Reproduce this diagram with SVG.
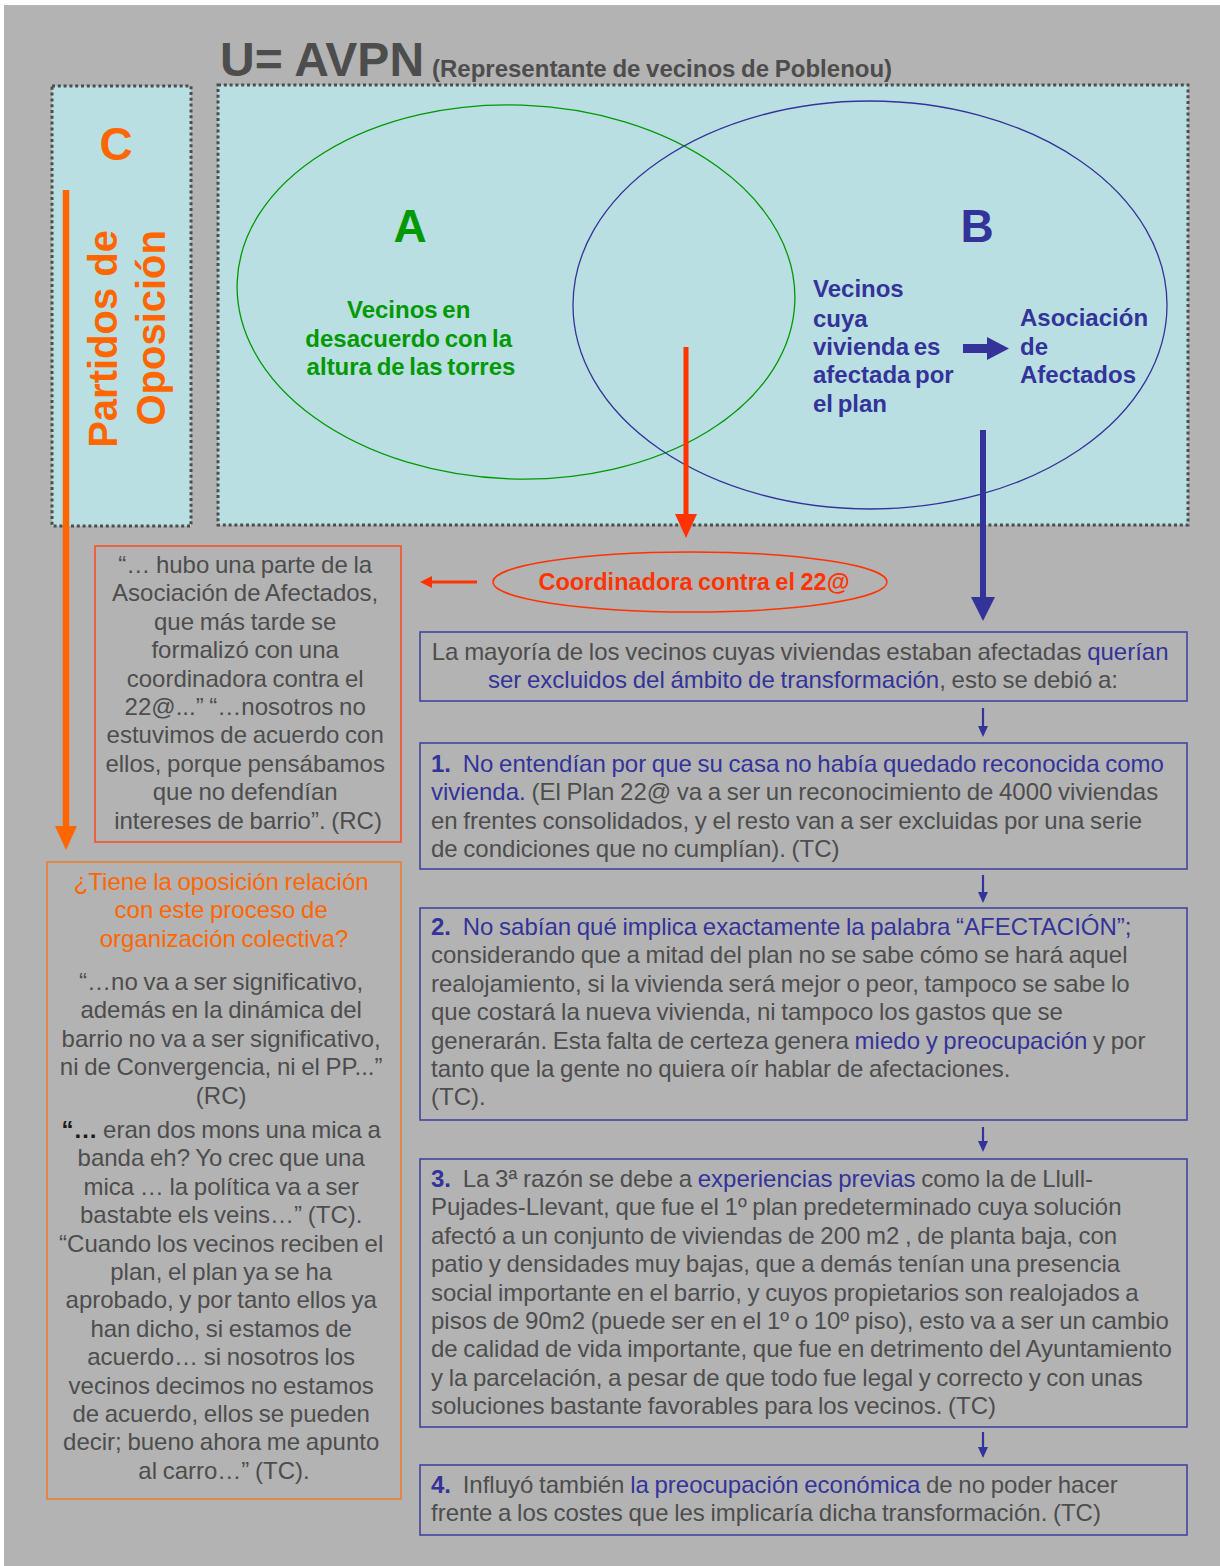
<svg xmlns="http://www.w3.org/2000/svg" width="1220" height="1566" viewBox="0 0 1220 1566">
  <style>
    text { font-family: "Liberation Sans", Arial, sans-serif; }
    .body { font-size: 24px; fill: #4d4d4d; word-spacing: -1px; }
    .mid { text-anchor: middle; }
    .hl { fill: #333399; }
    .num { font-weight: bold; fill: #333399; }
    .orange { fill: #ff6600; }
    .dotted { fill: #b9dfe2; stroke: #4d4d4d; stroke-width: 3; stroke-dasharray: 3 2.8; }
    .box { fill: none; stroke: #4444a0; stroke-width: 1.6; }
    .green { fill: #009900; font-weight: bold; }
    .blue { fill: #333399; font-weight: bold; }
  </style>

  <!-- page -->
  <rect x="0" y="0" width="1220" height="1566" fill="#ffffff"/>
  <rect x="4" y="5" width="1216" height="1561" fill="#b3b3b3"/>

  <!-- title -->
  <g id="title">
    <text x="220" y="76" font-size="48" font-weight="bold" fill="#4d4d4d">U= AVPN</text>
    <text x="432" y="77" font-size="24" font-weight="bold" fill="#4d4d4d" word-spacing="-1">(Representante de vecinos de Poblenou)</text>
  </g>

  <!-- set C -->
  <g id="set-c">
    <rect class="dotted" x="52" y="86" width="139" height="440"/>
    <text x="116" y="160" font-size="46" font-weight="bold" class="mid orange">C</text>
    <text transform="translate(117,230) rotate(-90)" font-size="40" font-weight="bold" class="orange" text-anchor="end">Partidos de</text>
    <text transform="translate(165,230) rotate(-90)" font-size="40" font-weight="bold" class="orange" text-anchor="end">Oposición</text>
  </g>

  <!-- universe U with sets A and B -->
  <g id="set-u">
    <rect class="dotted" x="218" y="85" width="970" height="440"/>
  </g>
  <g id="set-a">
    <ellipse cx="516" cy="292" rx="279" ry="187" fill="none" stroke="#009900" stroke-width="1.3" transform="rotate(2 516 292)"/>
    <text x="410" y="242" font-size="46" class="mid green">A</text>
    <text class="mid green" font-size="24" word-spacing="-2">
      <tspan x="411" y="318">Vecinos en</tspan>
      <tspan x="411" y="347">desacuerdo con la</tspan>
      <tspan x="411" y="375">altura de las torres</tspan>
    </text>
  </g>
  <g id="set-b">
    <ellipse cx="870" cy="305" rx="297" ry="204" fill="none" stroke="#333399" stroke-width="1.3"/>
    <text x="977" y="242" font-size="46" class="mid blue">B</text>
    <text class="blue" font-size="24" word-spacing="-2">
      <tspan x="813" y="297">Vecinos</tspan>
      <tspan x="813" y="327">cuya</tspan>
      <tspan x="813" y="355">vivienda es</tspan>
      <tspan x="813" y="383">afectada por</tspan>
      <tspan x="813" y="412">el plan</tspan>
    </text>
  </g>
  <g id="asociacion-afectados">
    <text class="blue" font-size="24">
      <tspan x="1020" y="326">Asociación</tspan>
      <tspan x="1020" y="355">de</tspan>
      <tspan x="1020" y="383">Afectados</tspan>
    </text>
  </g>

  <!-- Coordinadora -->
  <g id="coordinadora">
    <ellipse cx="690" cy="582" rx="197" ry="30" fill="none" stroke="#ff3300" stroke-width="1.5"/>
    <text x="694" y="590" font-size="23.5" font-weight="bold" fill="#ff3300" class="mid" word-spacing="-1">Coordinadora contra el 22@</text>
  </g>

  <!-- quote about the Coordinadora -->
  <g id="quote-coordinadora">
    <rect x="95" y="546" width="306" height="296" fill="none" stroke="#ff4a1a" stroke-width="1.5"/>
    <text class="body mid">
      <tspan x="248" y="573">“… hubo una parte de la</tspan>
      <tspan x="248" y="601.4">Asociación de Afectados,</tspan>
      <tspan x="248" y="629.8">que más tarde se</tspan>
      <tspan x="248" y="658.2">formalizó con una</tspan>
      <tspan x="248" y="686.6">coordinadora contra el</tspan>
      <tspan x="248" y="715">22@...” “…nosotros no</tspan>
      <tspan x="248" y="743.4">estuvimos de acuerdo con</tspan>
      <tspan x="248" y="771.8">ellos, porque pensábamos</tspan>
      <tspan x="248" y="800.2">que no defendían</tspan>
      <tspan x="248" y="828.6">intereses de barrio”. (RC)</tspan>
    </text>
  </g>

  <!-- opposition question and quotes -->
  <g id="quote-oposicion">
    <rect x="47" y="862" width="354" height="637" fill="none" stroke="#f07a28" stroke-width="1.5"/>
    <text class="body mid" style="fill:#ff6600">
      <tspan x="224" y="890">¿Tiene la oposición relación</tspan>
      <tspan x="224" y="918.4">con este proceso de</tspan>
      <tspan x="224" y="946.8">organización colectiva?</tspan>
    </text>
    <text class="body mid">
      <tspan x="224" y="990">“…no va a ser significativo,</tspan>
      <tspan x="224" y="1018.4">además en la dinámica del</tspan>
      <tspan x="224" y="1046.8">barrio no va a ser significativo,</tspan>
      <tspan x="224" y="1075.2">ni de Convergencia, ni el PP...”</tspan>
      <tspan x="224" y="1103.6">(RC)</tspan>
      <tspan x="224" y="1138"><tspan fill="#1a1a1a" font-weight="bold">“…</tspan> eran dos mons una mica a</tspan>
      <tspan x="224" y="1166.4">banda eh? Yo crec que una</tspan>
      <tspan x="224" y="1194.8">mica … la política va a ser</tspan>
      <tspan x="224" y="1223.2">bastabte els veins…” (TC).</tspan>
      <tspan x="224" y="1251.6">“Cuando los vecinos reciben el</tspan>
      <tspan x="224" y="1280">plan, el plan ya se ha</tspan>
      <tspan x="224" y="1308.4">aprobado, y por tanto ellos ya</tspan>
      <tspan x="224" y="1336.8">han dicho, si estamos de</tspan>
      <tspan x="224" y="1365.2">acuerdo… si nosotros los</tspan>
      <tspan x="224" y="1393.6">vecinos decimos no estamos</tspan>
      <tspan x="224" y="1422">de acuerdo, ellos se pueden</tspan>
      <tspan x="224" y="1450.4">decir; bueno ahora me apunto</tspan>
      <tspan x="224" y="1478.8">al carro…” (TC).</tspan>
    </text>
  </g>

  <!-- reasons -->
  <g id="reason-intro">
    <rect class="box" x="420" y="632" width="767" height="69"/>
    <text class="body mid">
      <tspan x="803" y="660">La mayoría de los vecinos cuyas viviendas estaban afectadas <tspan class="hl">querían</tspan></tspan>
      <tspan x="803" y="688.4"><tspan class="hl">ser excluidos del ámbito de transformación</tspan>, esto se debió a:</tspan>
    </text>
  </g>

  <g id="reason-1">
    <rect class="box" x="420" y="743" width="767" height="126"/>
    <text class="body">
      <tspan x="431" y="772"><tspan class="num">1.</tspan><tspan class="hl" dx="6"> No entendían por que su casa no había quedado reconocida como</tspan></tspan>
      <tspan x="431" y="800.4"><tspan class="hl">vivienda.</tspan> (El Plan 22@ va a ser un reconocimiento de 4000 viviendas</tspan>
      <tspan x="431" y="828.8">en frentes consolidados, y el resto van a ser excluidas por una serie</tspan>
      <tspan x="431" y="857.2">de condiciones que no cumplían). (TC)</tspan>
    </text>
  </g>

  <g id="reason-2">
    <rect class="box" x="420" y="908" width="767" height="212"/>
    <text class="body">
      <tspan x="431" y="935"><tspan class="num">2.</tspan><tspan class="hl" dx="6"> No sabían qué implica exactamente la palabra “AFECTACIÓN”;</tspan></tspan>
      <tspan x="431" y="963.4">considerando que a mitad del plan no se sabe cómo se hará aquel</tspan>
      <tspan x="431" y="991.8">realojamiento, si la vivienda será mejor o peor, tampoco se sabe lo</tspan>
      <tspan x="431" y="1020.2">que costará la nueva vivienda, ni tampoco los gastos que se</tspan>
      <tspan x="431" y="1048.6">generarán. Esta falta de certeza genera <tspan class="hl">miedo y preocupación</tspan> y por</tspan>
      <tspan x="431" y="1077">tanto que la gente no quiera oír hablar de afectaciones.</tspan>
      <tspan x="431" y="1105.4">(TC).</tspan>
    </text>
  </g>

  <g id="reason-3">
    <rect class="box" x="420" y="1159" width="767" height="268"/>
    <text class="body">
      <tspan x="431" y="1187"><tspan class="num">3.</tspan><tspan dx="6"> La 3ª razón se debe a </tspan><tspan class="hl">experiencias previas</tspan> como la de Llull-</tspan>
      <tspan x="431" y="1215.4">Pujades-Llevant, que fue el 1º plan predeterminado cuya solución</tspan>
      <tspan x="431" y="1243.8">afectó a un conjunto de viviendas de 200 m2 , de planta baja, con</tspan>
      <tspan x="431" y="1272.2">patio y densidades muy bajas, que a demás tenían una presencia</tspan>
      <tspan x="431" y="1300.6">social importante en el barrio, y  cuyos propietarios son realojados a</tspan>
      <tspan x="431" y="1329">pisos de 90m2 (puede ser en el 1º o 10º piso), esto va a ser un cambio</tspan>
      <tspan x="431" y="1357.4">de calidad de vida importante, que fue en detrimento del Ayuntamiento</tspan>
      <tspan x="431" y="1385.8">y la parcelación, a pesar de que todo fue legal y correcto y con unas</tspan>
      <tspan x="431" y="1414.2">soluciones bastante favorables para los vecinos. (TC)</tspan>
    </text>
  </g>

  <g id="reason-4">
    <rect class="box" x="420" y="1465" width="767" height="70"/>
    <text class="body">
      <tspan x="431" y="1493"><tspan class="num">4.</tspan><tspan dx="6"> Influyó también </tspan><tspan class="hl">la preocupación económica</tspan> de no poder hacer</tspan>
      <tspan x="431" y="1521.4">frente a los costes que les implicaría dicha transformación. (TC)</tspan>
    </text>
  </g>

  <!-- connectors -->
  <g id="connectors">
    <!-- opposition parties down to the question box -->
    <line x1="66" y1="190" x2="66" y2="828" stroke="#ff6600" stroke-width="6.5"/>
    <polygon points="55,826 77,826 66,850" fill="#ff6600"/>
    <!-- A∩B down to the Coordinadora -->
    <line x1="686" y1="347" x2="686" y2="516" stroke="#ff3300" stroke-width="5"/>
    <polygon points="675,514 697,514 686,538" fill="#ff3300"/>
    <!-- Coordinadora to its quote -->
    <line x1="477" y1="582" x2="430" y2="582" stroke="#ff3300" stroke-width="3"/>
    <polygon points="432,576 432,588 420,582" fill="#ff3300"/>
    <!-- vecinos afectados to asociación -->
    <rect x="963" y="344" width="25" height="9" fill="#333399"/>
    <polygon points="987,337 1009,348.5 987,360" fill="#333399"/>
    <!-- B down to the reasons -->
    <line x1="983" y1="430" x2="983" y2="599" stroke="#333399" stroke-width="6"/>
    <polygon points="971,597 995,597 983,621" fill="#333399"/>
    <!-- between the reason boxes -->
    <line x1="983" y1="708" x2="983" y2="728" stroke="#333399" stroke-width="2.2"/>
    <polygon points="978,726 988,726 983,737" fill="#333399"/>
    <line x1="983" y1="875" x2="983" y2="894" stroke="#333399" stroke-width="2.2"/>
    <polygon points="978,892 988,892 983,903" fill="#333399"/>
    <line x1="983" y1="1127" x2="983" y2="1143" stroke="#333399" stroke-width="2.2"/>
    <polygon points="978,1141 988,1141 983,1152" fill="#333399"/>
    <line x1="983" y1="1432" x2="983" y2="1449" stroke="#333399" stroke-width="2.2"/>
    <polygon points="978,1447 988,1447 983,1458" fill="#333399"/>
  </g>
</svg>
